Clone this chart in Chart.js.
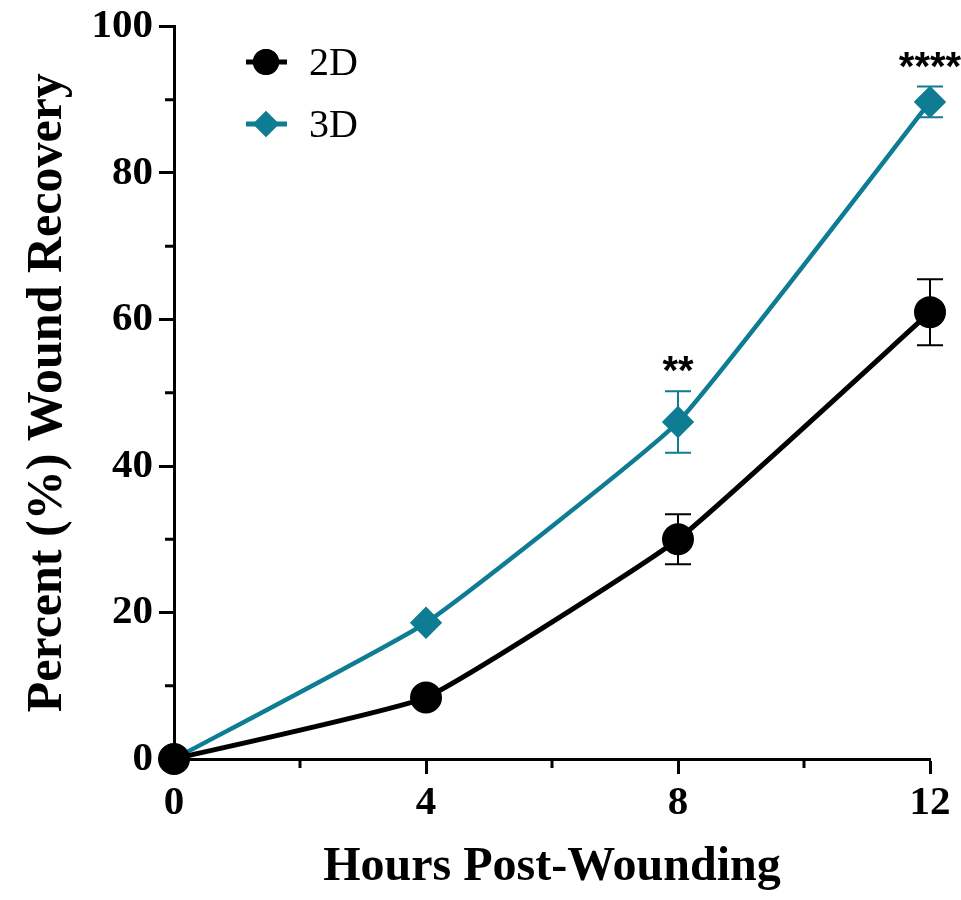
<!DOCTYPE html>
<html>
<head>
<meta charset="utf-8">
<script src="https://cdn.jsdelivr.net/npm/chart.js@4"></script>
<style>
  html, body { margin: 0; padding: 0; background: #fff; }
  #wrap { width: 961px; height: 900px; }
</style>
</head>
<body>
<div id="wrap"><canvas id="chart-recovery" width="961" height="900"></canvas></div>
<script>
// time points and mean +/- error for each culture type
const hours = [0, 4, 8, 12];
const recovery2D = [0, 8.4, 30, 61];
const error2D = [0, 0, 3.4, 4.5];
const recovery3D = [0, 18.6, 46, 89.7];
const error3D = [0, 0, 4.2, 2.1];
const signif = ["", "", "**", "****"];

const teal = "#0e7c93";
const serif = "'Liberation Serif', 'Times New Roman', serif";

function pts(ys) {
  return hours.map((h, i) => ({ x: h, y: ys[i] }));
}

// error bars with caps, drawn under the markers
const errorBars = {
  id: "errorBars",
  beforeDatasetsDraw(chart) {
    const { ctx, scales } = chart;
    const sets = [
      { ys: recovery3D, err: error3D, color: teal },
      { ys: recovery2D, err: error2D, color: "#000" },
    ];
    ctx.save();
    ctx.lineWidth = 2;
    sets.forEach((s) => {
      ctx.strokeStyle = s.color;
      hours.forEach((h, i) => {
        if (!s.err[i]) return;
        const x = scales.x.getPixelForValue(h);
        const top = scales.y.getPixelForValue(s.ys[i] + s.err[i]);
        const bot = scales.y.getPixelForValue(s.ys[i] - s.err[i]);
        ctx.beginPath();
        ctx.moveTo(x, top); ctx.lineTo(x, bot);
        ctx.moveTo(x - 13, top); ctx.lineTo(x + 13, top);
        ctx.moveTo(x - 13, bot); ctx.lineTo(x + 13, bot);
        ctx.stroke();
      });
    });
    ctx.restore();
  },
  afterDatasetsDraw(chart) {
    const { ctx, scales } = chart;
    ctx.save();
    // significance stars above the 3D points
    ctx.fillStyle = "#000";
    ctx.font = "bold 40px 'Liberation Sans', Arial, sans-serif";
    ctx.textAlign = "center";
    ctx.textBaseline = "middle";
    hours.forEach((h, i) => {
      if (!signif[i]) return;
      const x = scales.x.getPixelForValue(h);
      const y = scales.y.getPixelForValue(recovery3D[i] + error3D[i]) - 24;
      ctx.fillText(signif[i], x, y + 6);
    });

    // minor ticks
    ctx.strokeStyle = "#000";
    ctx.lineWidth = 3;
    const ax = scales.y.getPixelForValue(0);
    const left = scales.x.getPixelForValue(0);
    ctx.beginPath();
    for (let v = 10; v < 100; v += 20) {
      const y = scales.y.getPixelForValue(v);
      ctx.moveTo(left, y); ctx.lineTo(left - 9, y);
    }
    for (let v = 2; v < 12; v += 4) {
      const x = scales.x.getPixelForValue(v);
      ctx.moveTo(x, ax); ctx.lineTo(x, ax + 9);
    }
    ctx.stroke();

    // legend
    const rows = [
      { label: "2D", color: "#000", style: "circle", y: 62 },
      { label: "3D", color: teal, style: "rectRot", y: 124 },
    ];
    ctx.font = "40px " + serif;
    ctx.textAlign = "left";
    rows.forEach((r) => {
      ctx.strokeStyle = r.color;
      ctx.fillStyle = r.color;
      ctx.lineWidth = 5;
      ctx.beginPath();
      ctx.moveTo(246, r.y); ctx.lineTo(287, r.y);
      ctx.stroke();
      Chart.helpers.drawPoint(ctx, { pointStyle: r.style, radius: 13, borderWidth: 0 }, 266, r.y);
      ctx.fill();
      ctx.fillStyle = "#000";
      ctx.fillText(r.label, 309, r.y + 2);
    });
    ctx.restore();
  },
};

new Chart(document.getElementById("chart-recovery"), {
  type: "line",
  data: {
    datasets: [
      {
        label: "2D",
        data: pts(recovery2D),
        borderColor: "#000",
        backgroundColor: "#000",
        borderWidth: 5,
        pointStyle: "circle",
        pointRadius: 13.5,
        pointHoverRadius: 13.5,
        tension: 0.12,
        clip: false,
      },
      {
        label: "3D",
        data: pts(recovery3D),
        borderColor: teal,
        backgroundColor: teal,
        borderWidth: 4.5,
        pointStyle: "rectRot",
        pointRadius: 13,
        pointHoverRadius: 13,
        tension: 0.12,
        clip: false,
      },
    ],
  },
  options: {
    responsive: false,
    animation: false,
    events: [],
    layout: { padding: { left: 0, top: 25, right: 31, bottom: 0 } },
    plugins: { legend: { display: false }, tooltip: { enabled: false } },
    scales: {
      x: {
        type: "linear",
        min: 0,
        max: 12,
        afterFit: (s) => { s.height = 141; },
        border: { color: "#000", width: 3 },
        grid: { drawOnChartArea: false, color: "#000", tickLength: 15, tickWidth: 3 },
        ticks: { stepSize: 4, color: "#000", padding: 5, font: { family: serif, size: 41, weight: "bold" } },
        title: {
          display: true,
          text: "Hours Post-Wounding",
          color: "#000",
          padding: { top: 0, bottom: 4 },
          font: { family: serif, size: 48, weight: "bold" },
        },
      },
      y: {
        min: 0,
        max: 100,
        afterFit: (s) => { s.width = 174; },
        border: { color: "#000", width: 3 },
        grid: { drawOnChartArea: false, color: "#000", tickLength: 15, tickWidth: 3 },
        ticks: { stepSize: 20, color: "#000", padding: 6, font: { family: serif, size: 41, weight: "bold", lineHeight: 1 } },
        title: {
          display: true,
          text: "Percent (%) Wound Recovery",
          color: "#000",
          padding: { top: 18, bottom: 0 },
          font: { family: serif, size: 50, weight: "bold" },
        },
      },
    },
  },
  plugins: [errorBars],
});
</script>
</body>
</html>
